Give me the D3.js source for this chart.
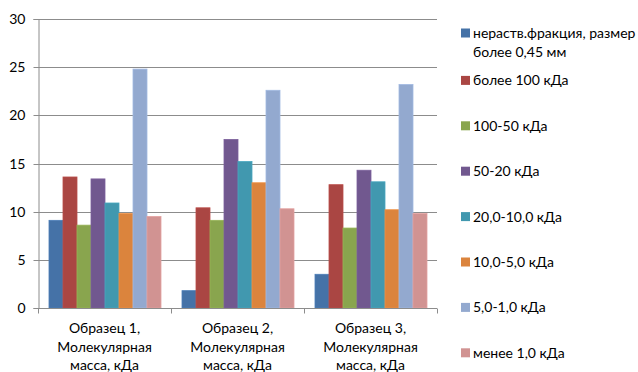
<!DOCTYPE html>
<html>
<head>
<meta charset="utf-8">
<script src="https://cdn.jsdelivr.net/npm/d3@7"></script>
<style>
  html, body { margin: 0; padding: 0; background: #fff; }
  svg text { font-family: Lato, "Open Sans", sans-serif; font-size: 14px; fill: #000; }
</style>
</head>
<body>
<svg id="chart" width="638" height="372"></svg>
<script>
// Categories (samples) and fraction series
const categories = [
  ["Образец 1,", "Молекулярная", "масса, кДа"],
  ["Образец 2,", "Молекулярная", "масса, кДа"],
  ["Образец 3,", "Молекулярная", "масса, кДа"]
];
const seriesNames = [
  ["нераств.фракция, размер", "более 0,45 мм"],
  ["более 100 кДа"],
  ["100-50 кДа"],
  ["50-20 кДа"],
  ["20,0-10,0 кДа"],
  ["10,0-5,0 кДа"],
  ["5,0-1,0 кДа"],
  ["менее 1,0 кДа"]
];
// values per series, one per sample
const insoluble  = [9.1, 1.8, 3.5];
const over100    = [13.6, 10.4, 12.8];
const r100_50    = [8.6, 9.1, 8.3];
const r50_20     = [13.4, 17.5, 14.3];
const r20_10     = [10.9, 15.2, 13.1];
const r10_5      = [9.8, 13.0, 10.2];
const r5_1       = [24.8, 22.6, 23.2];
const under1     = [9.5, 10.3, 9.8];
const seriesValues = [insoluble, over100, r100_50, r50_20, r20_10, r10_5, r5_1, under1];
const yTicks = [0, 5, 10, 15, 20, 25, 30];
const colors = ["#4572A7", "#AA4643", "#89A54E", "#71588F", "#4198AF", "#DB843D", "#93A9CF", "#D19392"];

const svg = d3.select("#chart");
const plot = { left: 38, right: 437, top: 19, bottom: 308 };

const y = d3.scaleLinear().domain([0, 30]).range([plot.bottom, plot.top]);
const x0 = d3.scaleBand().domain(d3.range(categories.length)).range([plot.left, plot.right]).paddingInner(0).paddingOuter(0);
// bars fill 8/9.5 of a category slot (gap = 1.5 bar widths)
const groupPad = 1.5 / 9.5 / 2;
const x1 = d3.scaleBand().domain(d3.range(seriesValues.length))
  .range([x0.bandwidth() * groupPad, x0.bandwidth() * (1 - groupPad)]).padding(0);

// horizontal gridlines
svg.append("g")
  .selectAll("line")
  .data(yTicks.filter(t => t > 0))
  .join("line")
  .attr("x1", plot.left).attr("x2", plot.right)
  .attr("y1", d => Math.round(y(d)) + 0.5).attr("y2", d => Math.round(y(d)) + 0.5)
  .attr("stroke", "#8c8c8c").attr("stroke-width", 1);

// y axis
const yAxis = d3.axisLeft(y).tickValues(yTicks).tickSize(5).tickPadding(8).tickFormat(d3.format("d"));
const gy = svg.append("g").attr("transform", `translate(${plot.left + 0.5},0)`).call(yAxis);
gy.select(".domain").attr("stroke", "#8c8c8c");
gy.selectAll(".tick line").attr("stroke", "#8c8c8c");
gy.selectAll(".tick text").style("font-size", "14px").attr("fill", "#000");
gy.selectAll(".tick").attr("transform", d => `translate(0,${Math.round(y(d)) + 0.5})`);

// bars
const groups = svg.append("g").selectAll("g")
  .data(categories.map((c, i) => i))
  .join("g")
  .attr("transform", i => `translate(${x0(i)},0)`);

groups.selectAll("rect")
  .data(i => seriesValues.map((vals, s) => ({ s, v: vals[i] })))
  .join("rect")
  .attr("x", d => Math.round(x1(d.s)))
  .attr("width", x1.bandwidth())
  .attr("y", d => y(d.v))
  .attr("height", d => plot.bottom - y(d.v))
  .attr("fill", d => colors[d.s])
  .attr("stroke", d => d3.color(colors[d.s]).brighter(0.25))
  .attr("stroke-width", 0.8);

// x axis
const gx = svg.append("g").attr("transform", `translate(0,${plot.bottom + 0.5})`);
gx.append("line").attr("x1", plot.left).attr("x2", plot.right).attr("stroke", "#8c8c8c");
gx.selectAll("line.tick")
  .data(d3.range(categories.length + 1))
  .join("line")
  .attr("class", "tick")
  .attr("x1", i => Math.round(plot.left + i * x0.bandwidth()) + 0.5)
  .attr("x2", i => Math.round(plot.left + i * x0.bandwidth()) + 0.5)
  .attr("y1", 0).attr("y2", 5)
  .attr("stroke", "#8c8c8c");

gx.selectAll("text.cat")
  .data(categories)
  .join("text")
  .attr("class", "cat")
  .attr("text-anchor", "middle")
  .attr("transform", (d, i) => `translate(${x0(i) + x0.bandwidth() / 2},0)`)
  .selectAll("tspan")
  .data(d => d)
  .join("tspan")
  .attr("x", 0)
  .attr("y", (d, k) => 24.5 + k * 18.5)
  .text(d => d);

// legend
const legendTop = 33;
const legendStep = 45.4;
const legend = svg.append("g");
const items = legend.selectAll("g")
  .data(seriesNames)
  .join("g")
  .attr("transform", (d, i) => `translate(461,${legendTop + (i === 0 ? 0 : i * legendStep + 2)})`);
items.append("rect")
  .attr("x", 0).attr("y", -4.5).attr("width", 9).attr("height", 9)
  .attr("fill", (d, i) => colors[i]);
items.append("text")
  .selectAll("tspan")
  .data(d => d)
  .join("tspan")
  .attr("x", 12)
  .attr("y", (d, k) => 5 + k * 19)
  .text(d => d);
</script>
</body>
</html>
